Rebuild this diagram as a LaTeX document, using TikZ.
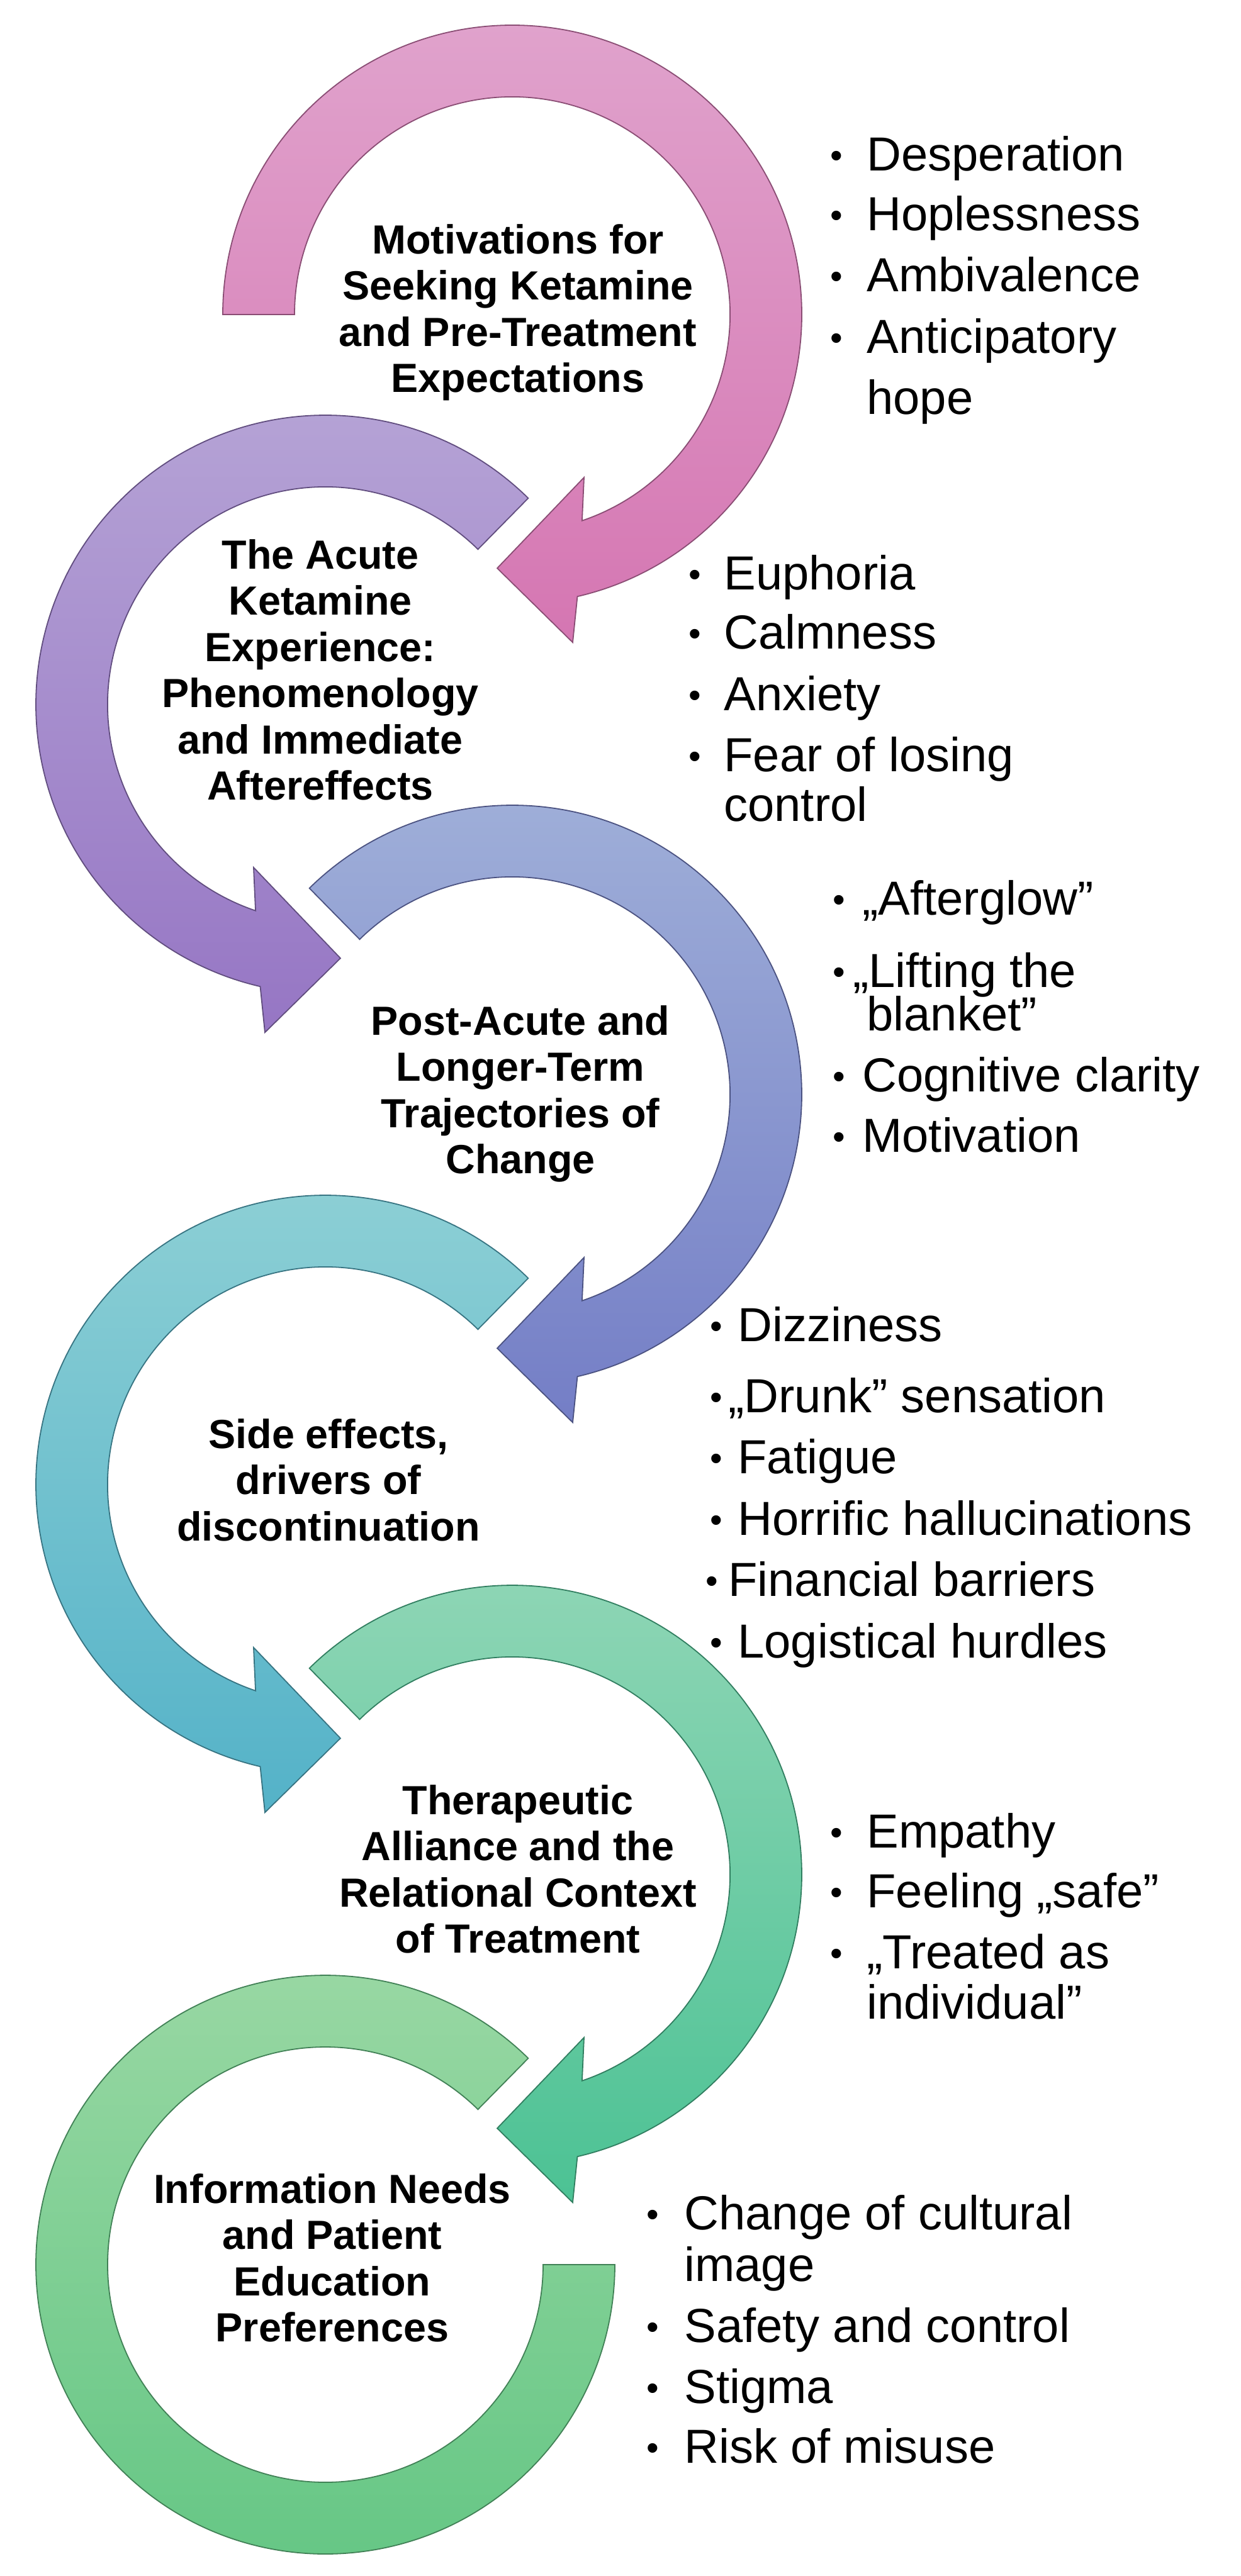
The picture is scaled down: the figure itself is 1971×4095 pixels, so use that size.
\documentclass[tikz,border=0pt]{standalone}
\usepackage{fontspec}
\setmainfont{Liberation Sans}
\definecolor{p1t}{RGB}{224,162,204}
\definecolor{p1b}{RGB}{213,118,178}
\definecolor{p2t}{RGB}{182,164,214}
\definecolor{p2b}{RGB}{150,118,196}
\definecolor{p3t}{RGB}{160,176,217}
\definecolor{p3b}{RGB}{116,126,198}
\definecolor{p4t}{RGB}{142,208,213}
\definecolor{p4b}{RGB}{84,178,200}
\definecolor{p5t}{RGB}{144,214,182}
\definecolor{p5b}{RGB}{76,194,148}
\definecolor{p6t}{RGB}{154,216,164}
\definecolor{p6b}{RGB}{100,198,132}
\tikzset{
  arr/.style 2 args={top color=#1, bottom color=#2, draw=#2!65!black, line width=0.9pt},
  ttl/.style={align=center, inner sep=0pt, anchor=north, font=\fontsize{32.35}{36.75}\selectfont\bfseries},
  itm/.style={anchor=base west, inner sep=0pt, font=\fontsize{38}{45}\selectfont},
  bul/.style={anchor=base, inner sep=0pt, font=\fontsize{28}{30}\selectfont},
}
% clockwise arrow (head at lower left)
\newcommand\ArrR[4]{%
  \begin{scope}[shift={(#1,#2)}]
    \path[arr={#4t}{#4b}] (#3:460) arc[start angle=#3, end angle=437, radius=460]
      -- (439.56:530) -- (453.4:404) -- (426.24:283) -- (431.3:346)
      arc[start angle=431.3, end angle=#3, radius=346] -- cycle;
  \end{scope}}
% counter-clockwise arrow (head at lower right)
\newcommand\ArrL[4]{%
  \begin{scope}[shift={(#1,#2)}]
    \path[arr={#4t}{#4b}] (#3:460) arc[start angle=#3, end angle=-257, radius=460]
      -- (-259.56:530) -- (-273.4:404) -- (-246.24:283) -- (-251.3:346)
      arc[start angle=-251.3, end angle=#3, radius=346] -- cycle;
  \end{scope}}
\newcommand\BItem[5]{%
  \node[bul] (#1b) at (#2,#4+18) {•};
  \node[itm] (#1) at (#3,#4+23) {#5};}
\newcommand\BCont[4]{\node[itm] (#1) at (#2,#3+23) {#4};}
\begin{document}
\begin{tikzpicture}[x=0.5pt, y=-0.5pt]
\useasboundingbox (0,0) rectangle (1971,4095);
\fill[white] (0,0) rectangle (1971,4095);

% arrows
\ArrR{814}{500}{180}{p1}
\ArrL{517}{1120}{-45.5}{p2}
\ArrR{814}{1740}{225.5}{p3}
\ArrL{517}{2360}{-45.5}{p4}
\ArrR{814}{2980}{225.5}{p5}
\begin{scope}[shift={(517,3600)}]
  \path[arr={p6t}{p6b}] (-45.5:460) arc[start angle=-45.5, end angle=-360, radius=460]
    -- (-360:346) arc[start angle=-360, end angle=-45.5, radius=346] -- cycle;
\end{scope}

% titles
\node[ttl] (t1) at (823,356) {Motivations for\\Seeking Ketamine\\and Pre-Treatment\\Expectations};
\node[ttl] (t2) at (509,857) {The Acute\\Ketamine\\Experience:\\Phenomenology\\and Immediate\\Aftereffects};
\node[ttl] (t3) at (827,1598) {Post-Acute and\\Longer-Term\\Trajectories of\\Change};
\node[ttl] (t4) at (522,2255) {Side effects,\\drivers of\\discontinuation};
\node[ttl] (t5) at (823,2837) {Therapeutic\\Alliance and the\\Relational Context\\of Treatment};
\node[ttl] (t6) at (528,3455) {Information Needs\\and Patient\\Education\\Preferences};

% group 1
\BItem{ga}{1329}{1377}{248}{Desperation}
\BItem{gb}{1329}{1377}{343}{Hoplessness}
\BItem{gc}{1329}{1377}{440}{Ambivalence}
\BItem{gd}{1329}{1377}{538}{Anticipatory}
\BCont{ge}{1377}{635}{hope}
% group 2
\BItem{ha}{1104}{1150}{914}{Euphoria}
\BItem{hb}{1104}{1150}{1008}{Calmness}
\BItem{hc}{1104}{1150}{1106}{Anxiety}
\BItem{hd}{1104}{1150}{1203}{Fear of losing}
\BCont{he}{1150}{1282}{control}
% group 3
\BItem{ia}{1333}{1370}{1431}{„Afterglow”}
\BItem{ib}{1333}{1355}{1546}{„Lifting the}
\BCont{ic}{1377}{1615}{blanket”}
\BItem{id}{1333}{1370}{1712}{Cognitive clarity}
\BItem{ie}{1333}{1370}{1808}{Motivation}
% group 4
\BItem{ja}{1138}{1172}{2109}{Dizziness}
\BItem{jb}{1138}{1157}{2222}{„Drunk” sensation}
\BItem{jc}{1138}{1172}{2319}{Fatigue}
\BItem{jd}{1138}{1172}{2417}{Horrific hallucinations}
\BItem{je}{1131}{1157}{2514}{Financial barriers}
\BItem{jf}{1138}{1172}{2612}{Logistical hurdles}
% group 5
\BItem{ka}{1329}{1377}{2914}{Empathy}
\BItem{kb}{1329}{1377}{3009}{Feeling „safe”}
\BItem{kc}{1329}{1377}{3106}{„Treated as}
\BCont{kd}{1377}{3186}{individual”}
% group 6
\BItem{la}{1037}{1087}{3521}{Change of cultural}
\BCont{lb}{1087}{3603}{image}
\BItem{lc}{1037}{1087}{3700}{Safety and control}
\BItem{ld}{1037}{1087}{3797}{Stigma}
\BItem{le}{1037}{1087}{3892}{Risk of misuse}
\end{tikzpicture}
\end{document}
